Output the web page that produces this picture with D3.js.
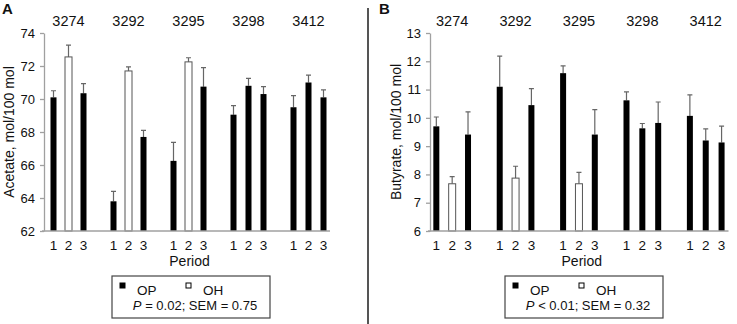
<!DOCTYPE html>
<html>
<head>
<meta charset="utf-8">
<script src="https://cdn.jsdelivr.net/npm/d3@7"></script>
<style>
  body { margin: 0; background: #fff; }
  text { font-family: "Liberation Sans", Arial, sans-serif; fill: #111; }
</style>
</head>
<body>
<svg id="chart" width="737" height="324"></svg>
<script>
// Sessions (column headers) and periods within each session
const sessions = ['3274', '3292', '3295', '3298', '3412'];
const periods = ['1', '2', '3'];

// Diet per session / period (OP = black, OH = white)
const diets = [
    ['OP', 'OH', 'OP'],
    ['OP', 'OH', 'OP'],
    ['OP', 'OH', 'OP'],
    ['OP', 'OP', 'OP'],
    ['OP', 'OP', 'OP']
];

// Panel A: acetate, mol/100 mol (mean and upper error)
const acetateMean = [
    [70.1, 72.55, 70.35],
    [63.8, 71.7, 67.7],
    [66.25, 72.25, 70.75],
    [69.05, 70.8, 70.3],
    [69.5, 71.0, 70.1]
];
const acetateErr = [
    [0.4, 0.72, 0.58],
    [0.6, 0.25, 0.4],
    [1.12, 0.25, 1.15],
    [0.55, 0.45, 0.45],
    [0.7, 0.45, 0.45]
];
const acetateTicks = [62, 64, 66, 68, 70, 72, 74];

// Panel B: butyrate, mol/100 mol
const butyrateMean = [
    [9.7, 7.67, 9.41],
    [11.1, 7.87, 10.45],
    [11.58, 7.67, 9.41],
    [10.62, 9.63, 9.82],
    [10.07, 9.2, 9.13]
];
const butyrateErr = [
    [0.33, 0.25, 0.8],
    [1.08, 0.42, 0.58],
    [0.26, 0.4, 0.88],
    [0.3, 0.17, 0.74],
    [0.74, 0.41, 0.58]
];
const butyrateTicks = [6, 7, 8, 9, 10, 11, 12, 13];

const svg = d3.select('#chart');

function drawPanel(opts) {
    const g = svg.append('g');
    const top = 33, bottom = 231;

    // 3 bars + 1 gap slot per session, last gap dropped
    const slots = d3.range(sessions.length * 4 - 1);
    const x = d3.scaleBand().domain(slots).range(opts.xRange);
    const y = d3.scaleLinear().domain(opts.yDomain).range([bottom, top]);
    const barW = 6;

    // Flatten data into bar records
    const bars = [];
    sessions.forEach((s, i) => {
        periods.forEach((p, j) => {
            bars.push({
                slot: i * 4 + j,
                period: p,
                diet: diets[i][j],
                mean: opts.mean[i][j],
                err: opts.err[i][j]
            });
        });
    });
    const cx = d => x(d.slot) + x.bandwidth() / 2;

    // y axis
    const yAxis = g.append('g')
        .attr('transform', `translate(${opts.axisX},0)`)
        .call(d3.axisLeft(y)
            .tickValues(opts.ticks)
            .tickFormat(d3.format('d'))
            .tickSize(4).tickSizeOuter(0).tickPadding(5));
    yAxis.selectAll('path, line').attr('stroke', '#a0a0a0').attr('stroke-width', 1.3);
    yAxis.selectAll('text').attr('font-size', 13).attr('fill', '#111')
        .style('font-family', '"Liberation Sans", Arial, sans-serif');

    // error bars (upper only)
    g.selectAll('.err')
        .data(bars)
        .join('path')
        .attr('class', 'err')
        .attr('fill', 'none')
        .attr('stroke', '#666')
        .attr('stroke-width', 1.2)
        .attr('d', d => {
            const xc = cx(d), y0 = y(d.mean), y1 = y(d.mean + d.err);
            return `M${xc},${y0}V${y1}M${xc - 2.5},${y1}H${xc + 2.5}`;
        });

    // bars
    g.selectAll('.bar')
        .data(bars)
        .join('rect')
        .attr('class', 'bar')
        .attr('x', d => d.diet === 'OP' ? cx(d) - barW / 2 : cx(d) - barW / 2 - 0.5)
        .attr('width', d => d.diet === 'OP' ? barW : barW + 1)
        .attr('y', d => y(d.mean))
        .attr('height', d => y(opts.yDomain[0]) - y(d.mean))
        .attr('fill', d => d.diet === 'OP' ? '#000' : '#fff')
        .attr('stroke', d => d.diet === 'OP' ? 'none' : '#555')
        .attr('stroke-width', 1);

    // x axis line + period labels
    const xAxis = g.append('g')
        .attr('transform', `translate(0,${bottom})`)
        .call(d3.axisBottom(x)
            .tickValues(bars.map(d => d.slot))
            .tickFormat(s => periods[s % 4])
            .tickSize(0)
            .tickPadding(9));
    xAxis.select('.domain')
        .attr('d', `M${opts.axisX - 2},0H${opts.xRange[1] - 1}`)
        .attr('stroke', '#a0a0a0').attr('stroke-width', 1.5);
    xAxis.selectAll('text').attr('font-size', 13.5).attr('fill', '#111')
        .style('font-family', '"Liberation Sans", Arial, sans-serif');

    // session headers
    g.selectAll('.hdr')
        .data(sessions)
        .join('text')
        .attr('class', 'hdr')
        .attr('x', (s, i) => x(i * 4 + 1) + x.bandwidth() / 2)
        .attr('y', 26)
        .attr('text-anchor', 'middle')
        .attr('font-size', 14.5)
        .text(s => s);

    // axis titles
    g.append('text')
        .attr('transform', `translate(${opts.titleX},${(top + bottom) / 2}) rotate(-90)`)
        .attr('text-anchor', 'middle')
        .attr('font-size', 14)
        .text(opts.yTitle);
    g.append('text')
        .attr('x', (opts.axisX + opts.xRange[1]) / 2 + 2)
        .attr('y', 266)
        .attr('text-anchor', 'middle')
        .attr('font-size', 14)
        .text('Period');

    // panel letter
    g.append('text')
        .attr('x', opts.letterX)
        .attr('y', 14)
        .attr('font-size', 15)
        .attr('font-weight', 'bold')
        .text(opts.letter);

    // legend box
    const lg = g.append('g').attr('transform', `translate(${opts.legend[0]},${opts.legend[1]})`);
    const lw = 158, lh = 42;
    lg.append('rect')
        .attr('width', lw).attr('height', lh)
        .attr('fill', '#fff').attr('stroke', '#444').attr('stroke-width', 1.2);
    const items = [['OP', '#000', 8], ['OH', '#fff', 74]];
    items.forEach(([lab, col, ox]) => {
        lg.append('rect')
            .attr('x', ox).attr('y', 7).attr('width', 5).attr('height', 5)
            .attr('fill', col).attr('stroke', '#000').attr('stroke-width', 1);
        lg.append('text')
            .attr('x', ox + 17).attr('y', 19)
            .attr('font-size', 13.5)
            .text(lab);
    });
    const stat = lg.append('text')
        .attr('x', lw / 2 + 4).attr('y', 34)
        .attr('text-anchor', 'middle')
        .attr('font-size', 13);
    stat.append('tspan').attr('font-style', 'italic').text('P');
    stat.append('tspan').text(opts.stat);
}

drawPanel({
    letter: 'A', letterX: 2,
    axisX: 44, xRange: [46, 331],
    yDomain: [62, 74], ticks: acetateTicks,
    mean: acetateMean, err: acetateErr,
    yTitle: 'Acetate, mol/100 mol', titleX: 14,
    legend: [112, 276], stat: ' = 0.02; SEM = 0.75'
});

drawPanel({
    letter: 'B', letterX: 379,
    axisX: 430, xRange: [428.4, 729.5],
    yDomain: [6, 13], ticks: butyrateTicks,
    mean: butyrateMean, err: butyrateErr,
    yTitle: 'Butyrate, mol/100 mol', titleX: 401,
    legend: [505, 276], stat: ' < 0.01; SEM = 0.32'
});

// separator between panels
svg.append('line')
    .attr('x1', 368).attr('x2', 368)
    .attr('y1', 8).attr('y2', 324)
    .attr('stroke', '#555').attr('stroke-width', 2);
</script>
</body>
</html>
